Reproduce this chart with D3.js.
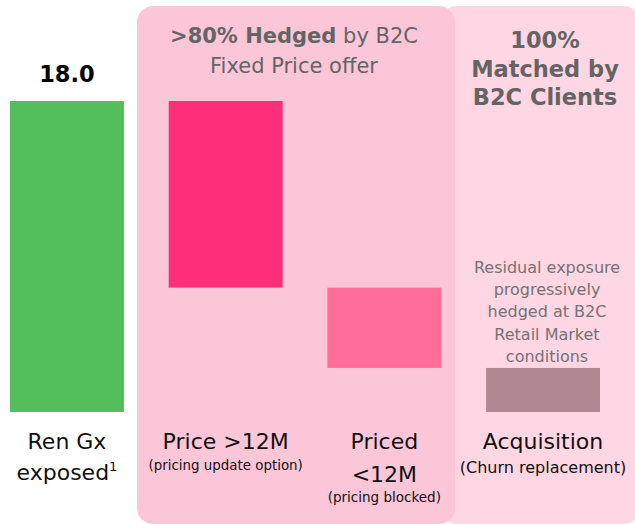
<!DOCTYPE html>
<html>
<head>
<meta charset="utf-8">
<script src="https://cdn.jsdelivr.net/npm/d3@7"></script>
<style>
  html, body { margin: 0; padding: 0; background: #ffffff; }
  svg { display: block; }
</style>
</head>
<body>
<div id="chart"></div>
<script>
// waterfall values
const categories = ["ren", "price", "priced", "acq"]
const values = [18.0, 10.8, 4.65, 2.55]
const barColors = ["#52bf5b", "#fe2f78", "#ff6d9c", "#b08893"]
const totalLabel = "18.0"

const catLabels = [
    [{t: "Ren Gx"}, {t: "exposed", sup: "1"}],
    [{t: "Price >12M"}, {t: "(pricing update option)", small: true}],
    [{t: "Priced"}, {t: "<12M"}, {t: "(pricing blocked)", small: true}],
    [{t: "Acquisition"}, {t: "(Churn replacement)", small: true}]
]
const residualNote = ["Residual exposure", "progressively", "hedged at B2C", "Retail Market", "conditions"]
const matchedTitle = ["100%", "Matched by", "B2C Clients"]

const w = 635
const h = 524
const font = "'DejaVu Sans', 'Liberation Sans', Arial, sans-serif"

const svg = d3.select("#chart").append("svg")
    .attr("width", w)
    .attr("height", h)

// background panels
svg.append("rect")
    .attr("x", 440).attr("y", 6)
    .attr("width", 200).attr("height", 518)
    .attr("rx", 16)
    .attr("fill", "#ffd6e3")

svg.append("rect")
    .attr("x", 137).attr("y", 6)
    .attr("width", 318).attr("height", 518)
    .attr("rx", 16)
    .attr("fill", "#fcc6d9")

const x = d3.scaleBand()
    .domain(categories)
    .range([10, 600])
    .paddingInner(0.282)
    .paddingOuter(0)

const y = d3.scaleLinear()
    .domain([0, 18])
    .range([412, 101])

// running waterfall: first bar is the total, the rest step down
let level = values[0]
const bars = values.map((v, i) => {
    if (i === 0) return {cat: categories[i], lo: 0, hi: v}
    const hi = level
    level = level - v
    return {cat: categories[i], lo: level, hi: hi}
})

svg.append("g").selectAll("rect")
    .data(bars)
    .join("rect")
    .attr("x", d => x(d.cat))
    .attr("y", d => y(d.hi))
    .attr("width", x.bandwidth())
    .attr("height", d => y(d.lo) - y(d.hi))
    .attr("fill", (d, i) => barColors[i])

// total label
svg.append("text")
    .attr("x", x(categories[0]) + x.bandwidth() / 2)
    .attr("y", y(values[0]) - 19)
    .attr("text-anchor", "middle")
    .style("font-family", font)
    .style("font-weight", "bold")
    .style("font-size", "22.5px")
    .attr("fill", "#000")
    .text(totalLabel)

// hedged title
const hedged = svg.append("g")
    .attr("fill", "#646464")
    .style("font-family", font)
    .style("font-size", "21px")
let t1 = hedged.append("text")
    .attr("x", 294).attr("y", 43)
    .attr("text-anchor", "middle")
t1.append("tspan").style("font-weight", "bold").text(">80% Hedged")
t1.append("tspan").text(" by B2C")
hedged.append("text")
    .attr("x", 294).attr("y", 73)
    .attr("text-anchor", "middle")
    .text("Fixed Price offer")

// matched title
svg.append("g").selectAll("text")
    .data(matchedTitle)
    .join("text")
    .attr("x", 545)
    .attr("y", (d, i) => 48 + i * 28.5)
    .attr("text-anchor", "middle")
    .attr("fill", "#646464")
    .style("font-family", font)
    .style("font-weight", "bold")
    .style("font-size", "22.5px")
    .text(d => d)

// residual note
svg.append("g").selectAll("text")
    .data(residualNote)
    .join("text")
    .attr("x", 547)
    .attr("y", (d, i) => 273 + i * 22.2)
    .attr("text-anchor", "middle")
    .attr("fill", "#737373")
    .style("font-family", font)
    .style("font-size", "16px")
    .text(d => d)

// category labels under the bars
const lineY = [[449, 480], [449, 470], [449, 482, 502], [449, 473]]
const smallSize = [0, 13.4, 13.5, 16]
catLabels.forEach((lines, i) => {
    const cx = x(categories[i]) + x.bandwidth() / 2
    lines.forEach((ln, j) => {
        const tx = svg.append("text")
            .attr("x", cx)
            .attr("y", lineY[i][j])
            .attr("text-anchor", "middle")
            .attr("fill", "#111")
            .style("font-family", font)
            .style("font-size", (ln.small ? smallSize[i] : 22) + "px")
        tx.append("tspan").text(ln.t)
        if (ln.sup) {
            tx.append("tspan")
                .attr("dy", -9)
                .style("font-size", "13px")
                .text(ln.sup)
        }
    })
})
</script>
</body>
</html>
